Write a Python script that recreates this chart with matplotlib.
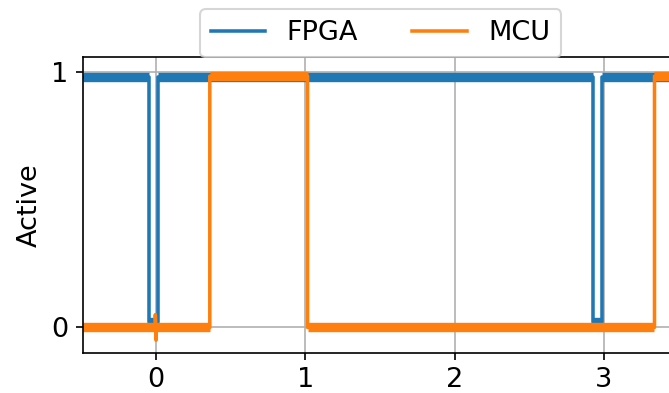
import matplotlib
matplotlib.use("Agg")
import matplotlib.pyplot as plt

# step traces (time, level)
fpga_t = [-0.49, -0.05, -0.05, 0.01, 0.01, 2.925, 2.925, 2.985, 2.985, 3.5]
fpga_v = [0.98, 0.98, 0.02, 0.02, 0.98, 0.98, 0.02, 0.02, 0.98, 0.98]

mcu_t = [-0.49, -0.005, -0.005, 0.0, 0.0, 0.36, 0.36, 1.015, 1.015, 3.34, 3.34, 3.5]
mcu_v = [0.0, 0.0, 0.05, -0.05, 0.0, 0.0, 0.985, 0.985, 0.0, 0.0, 0.985, 0.985]

x_ticks = [0, 1, 2, 3]
y_ticks = [0, 1]

plt.rcParams['font.size'] = 13

fig = plt.figure(figsize=(669 / 150, 393 / 150), dpi=150)
ax = fig.add_axes([0.124, 0.102, 0.89, 0.753])


def draw_trace(t, v, color, label):
    ax.plot(t, v, color=color, lw=1.7, label=label)
    # noisy flat parts show up as a thick band
    for i in range(len(t) - 1):
        if v[i] == v[i + 1] and t[i + 1] - t[i] > 0.02:
            ax.plot(t[i:i + 2], v[i:i + 2], color=color, lw=4.5,
                    solid_capstyle='butt')


draw_trace(fpga_t, fpga_v, '#1f77b4', 'FPGA')
draw_trace(mcu_t, mcu_v, '#ff7f0e', 'MCU')

ax.set_xlim(-0.49, 3.5)
ax.set_ylim(-0.1, 1.06)
ax.set_xticks(x_ticks)
ax.set_yticks(y_ticks)
ax.set_ylabel("Active")
ax.grid(True)

ax.legend(loc='lower center', bbox_to_anchor=(0.5, 1.0), ncol=2,
          borderaxespad=0)

fig.savefig("out.png", dpi=150)
